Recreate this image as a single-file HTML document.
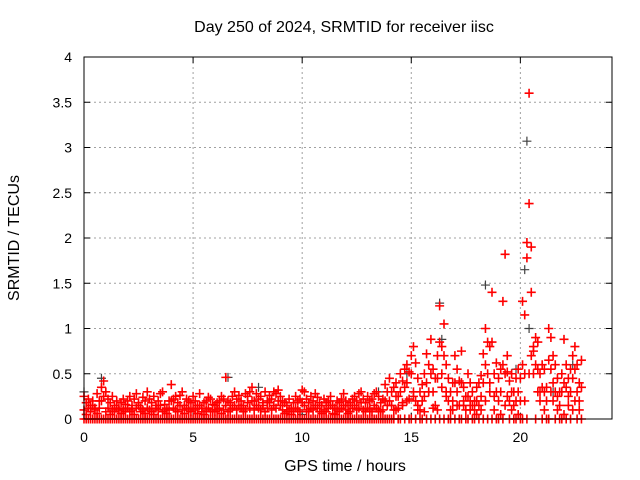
<!DOCTYPE html>
<html><head><meta charset="utf-8"><style>
body{margin:0;background:#fff;}
svg{display:block;font-family:"Liberation Sans",sans-serif;}
</style></head><body>
<svg id="chart" width="640" height="480" viewBox="0 0 640 480">
<rect width="640" height="480" fill="#fff"/>
<text x="344" y="32" font-size="16" text-anchor="middle">Day 250 of 2024, SRMTID for receiver iisc</text>
<text x="345" y="471" font-size="16" text-anchor="middle">GPS time / hours</text>
<text transform="translate(19,238) rotate(-90)" font-size="16" text-anchor="middle">SRMTID / TECUs</text>
<g id="grid"></g>
<g id="axes"></g>
<g id="gray"></g>
<g id="red"></g>
<rect x="84" y="57" width="528" height="362" fill="none" stroke="#000" stroke-width="1"/>
</svg>
<script>
const xTicks=[0,5,10,15,20];
const yTicks=[0,0.5,1,1.5,2,2.5,3,3.5,4];
const yTickLabels=["0","0.5","1","1.5","2","2.5","3","3.5","4"];
const timeStep=0.1;
const seriesA=[.25,.18,.22,.15,.2,.12,.28,.2,.35,.42,
.3,.22,.18,.25,.15,.2,.12,.18,.22,.16,
.2,.25,.15,.22,.28,.18,.12,.24,.2,.3,
.22,.18,.25,.15,.2,.28,.3,.16,.12,.2,
.38,.22,.25,.18,.26,.3,.15,.22,.2,.18,
.25,.2,.15,.28,.12,.18,.2,.24,.22,.16,
.15,.18,.2,.25,.22,.46,.2,.18,.25,.3,
.22,.26,.2,.15,.28,.25,.3,.35,.2,.28,
.22,.25,.18,.3,.2,.26,.22,.3,.28,.32,
.25,.2,.18,.15,.22,.12,.18,.25,.2,.22,
.32,.3,.22,.18,.25,.2,.28,.24,.18,.15,
.22,.18,.2,.25,.15,.12,.2,.18,.22,.28,
.2,.15,.18,.22,.25,.2,.28,.3,.22,.18,
.25,.2,.22,.28,.3,.25,.18,.22,.38,.3,
.45,.3,.35,.4,.25,.5,.42,.55,.6,.52,
.7,.8,.62,.45,.3,.38,.5,.72,.6,.88,
.55,.45,.7,1.25,.8,1.05,.6,.45,.3,.4,
.7,.55,.42,.75,.35,.25,.5,.4,.3,.2,
.35,.4,.48,.72,1.0,.85,.8,1.4,.5,.62,
.45,.55,1.3,1.82,.52,.42,.5,.3,.45,.55,
.45,1.3,1.15,1.78,3.6,1.4,.75,.9,.85,.5,
.6,.55,.35,1.0,.9,.7,.6,.45,.3,.5,
.88,.6,.45,.55,.7,.8,.6,.4,.65];
const seriesB=[.1,.05,.12,.08,.15,.1,.06,.12,.2,.25,
.08,.12,.05,.1,.08,.12,.1,.06,.1,.08,
.12,.08,.1,.05,.12,.15,.08,.1,.06,.12,
.1,.08,.05,.12,.1,.15,.08,.1,.06,.1,
.2,.12,.1,.08,.15,.1,.06,.12,.1,.08,
.12,.1,.06,.15,.08,.05,.1,.12,.08,.1,
.08,.1,.12,.06,.1,.15,.08,.1,.12,.15,
.1,.15,.12,.08,.1,.18,.12,.2,.1,.15,
.12,.1,.15,.08,.12,.18,.1,.15,.12,.2,
.15,.1,.06,.08,.1,.05,.08,.12,.1,.08,
.18,.15,.1,.08,.12,.1,.15,.12,.08,.06,
.1,.08,.12,.15,.06,.05,.1,.08,.12,.15,
.1,.06,.08,.12,.15,.1,.12,.18,.1,.08,
.12,.1,.08,.15,.12,.1,.08,.1,.2,.15,
.2,.15,.1,.25,.12,.3,.18,.35,.4,.22,
.5,.3,.2,.15,.1,.2,.25,.4,.3,.5,
.3,.15,.45,.85,.5,.7,.3,.2,.1,.2,
.4,.3,.15,.4,.15,.1,.25,.2,.15,.1,
.2,.15,.25,.4,.6,.5,.4,.85,.25,.3,
.2,.3,.6,.5,.25,.2,.3,.15,.2,.3,
.2,.6,.5,1.95,2.38,1.9,.5,.6,.55,.3,
.35,.3,.2,.65,.55,.4,.3,.25,.15,.3,
.4,.35,.25,.3,.45,.55,.3,.2,.35];
const seriesC=[0,0,0,0,0,0,0,0,0,0,0,0,0,0,0,0,0,0,0,0,
0,0,0,0,0,0,0,0,0,0,0,0,0,0,0,0,0,0,0,0,
0,0,0,0,0,0,0,0,0,0,0,0,0,0,0,0,0,0,0,0,
0,0,0,0,0,0,0,0,0,0,0,0,0,0,0,0,0,0,0,0,
0,0,0,0,0,0,0,0,0,0,0,0,0,0,0,0,0,0,0,0,
0,0,0,0,0,0,0,0,0,0,0,0,0,0,0,0,0,0,0,0,
0,0,0,0,0,0,0,0,0,0,0,0,0,0,0,0,0,0,0,0,0,
0,0,.1,0,0,.15,0,.2,0,0,
.25,0,.1,0,0,.08,0,.3,0,.12,
0,.1,0,.35,0,.25,0,0,.1,0,
.15,0,0,.2,0,0,.1,0,0,.05,
0,.1,0,.2,0,.3,0,.1,0,0,
.05,0,.15,.7,0,.1,0,0,.05,0,
0,.2,0,.5,.7,.8,0,.3,.2,0,
.1,0,0,.3,.2,0,.1,0,0,.05,
0,.15,0,.1,.2,0,.1,0];
const grayTimes=[0,0.8,6.6,8,10,13.5,14.8,16.3,16.4,17.3,18.4,19.8,20.2,20.3,20.4,21.5,22.4];
const grayValues=[.3,.45,.46,.35,.05,.3,.5,1.28,.88,.4,1.48,.55,1.65,3.07,1.0,.3,.6];

const X0=84,X1=612,Y0=419,Y1=57,XMAX=24.2,YMAX=4;
const sx=t=>X0+t/XMAX*(X1-X0);
const sy=v=>Y0-v/YMAX*(Y0-Y1);
const NS="http://www.w3.org/2000/svg";
const grid=document.getElementById('grid'),axes=document.getElementById('axes');
function mk(tag,attrs,parent){const e=document.createElementNS(NS,tag);for(const k in attrs)e.setAttribute(k,attrs[k]);parent.appendChild(e);return e;}
xTicks.forEach(t=>{
  const x=sx(t);
  if(t>0){const g=mk('line',{x1:x,x2:x,y1:Y0,y2:Y1,stroke:'#a0a0a0','stroke-dasharray':'2,3'},grid);
  
  }
  const tk=mk('path',{d:`M${x},${Y0}v-6M${x},${Y1}v6`,stroke:'#000'},axes);
  
  
  const l=mk('text',{x:x,y:Y0+23,'font-size':14,'text-anchor':'middle'},axes);l.textContent=t;
  
  
});
yTicks.forEach((v,i)=>{
  const y=sy(v);
  if(v>0&&v<YMAX){const g=mk('line',{x1:X0,x2:X1,y1:y,y2:y,stroke:'#a0a0a0','stroke-dasharray':'2,3'},grid);
  
  }
  const tk=mk('path',{d:`M${X0},${y}h6M${X1},${y}h-6`,stroke:'#000'},axes);
  
  
  const l=mk('text',{x:X0-12,y:y+5,'font-size':14,'text-anchor':'end'},axes);l.textContent=yTickLabels[i];
  
  
});
function plus(t,v,color,parent,w){
  const x=sx(t),y=sy(v);
  const p=mk('path',{d:`M${x-4.5},${y}h9M${x},${y-4.5}v9`,stroke:color,'stroke-width':w},parent);
  
  
}
const gG=document.getElementById('gray'),gR=document.getElementById('red');
grayTimes.forEach((t,i)=>plus(t,grayValues[i],'#404040',gG,1.2));
[seriesC,seriesB,seriesA].forEach(s=>s.forEach((v,i)=>plus(i*timeStep,v,'#ff0000',gR,1.6)));
</script>
</body></html>
